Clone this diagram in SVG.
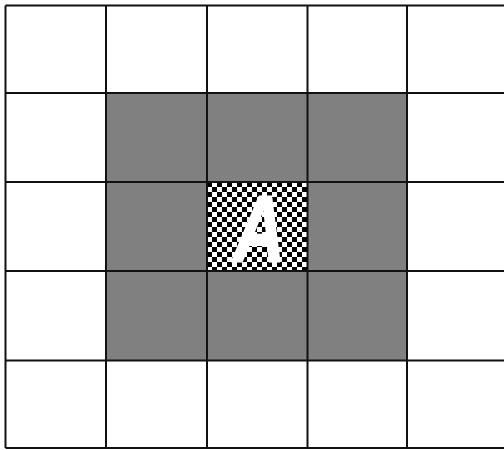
<svg xmlns="http://www.w3.org/2000/svg" width="504" height="450" viewBox="0 0 504 450">
<defs>
<pattern id="chk" patternUnits="userSpaceOnUse" x="207" y="182" width="10" height="10">
<rect width="10" height="10" fill="#fff"/>
<rect width="5" height="5" fill="#000"/>
<rect x="5" y="5" width="5" height="5" fill="#000"/>
</pattern>
<style>
.g{fill:#808080}
.ln{stroke:#111;stroke-width:2;fill:none}
.lbl{font-family:"Liberation Sans",Arial,sans-serif;font-weight:bold;font-style:italic;font-size:94px;fill:#fff;stroke:#fff;stroke-width:2;stroke-linejoin:round}
</style>
</defs>
<rect width="504" height="450" fill="#fff"/>
<g id="gray">
<rect class="g" x="106" y="93" width="301" height="267.5"/>
</g>
<g id="center">
<rect x="207" y="182" width="100.5" height="89" fill="url(#chk)"/>
<text class="lbl" transform="translate(259,262) scale(0.76,1)" text-anchor="middle">A</text>
</g>
<g id="grid" class="ln">
<line x1="5.5" y1="5.5" x2="504" y2="5.5"/>
<line x1="5.5" y1="93" x2="504" y2="93"/>
<line x1="5.5" y1="182" x2="504" y2="182"/>
<line x1="5.5" y1="271" x2="504" y2="271"/>
<line x1="5.5" y1="360.5" x2="504" y2="360.5"/>
<line x1="5.5" y1="448" x2="504" y2="448"/>
<line x1="5.5" y1="5.5" x2="5.5" y2="448"/>
<line x1="106" y1="5.5" x2="106" y2="448"/>
<line x1="207" y1="5.5" x2="207" y2="448"/>
<line x1="307.5" y1="5.5" x2="307.5" y2="448"/>
<line x1="407" y1="5.5" x2="407" y2="448"/>
</g>
</svg>
